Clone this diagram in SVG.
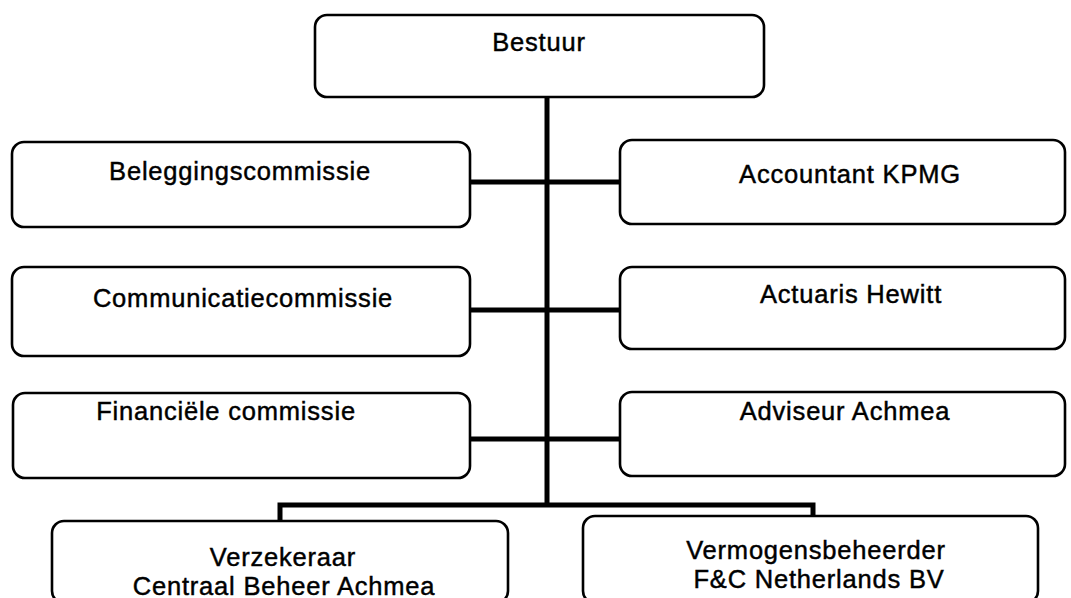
<svg xmlns="http://www.w3.org/2000/svg" width="1071" height="598" viewBox="0 0 1071 598">
<style>
.box{fill:#fff;stroke:#000;stroke-width:2.6}
.lbl{font-family:"Liberation Sans",Arial,sans-serif;font-size:25.5px;fill:#000;stroke:#000;stroke-width:0.45;letter-spacing:0.8px;text-anchor:middle}
.con{fill:none;stroke:#000;stroke-width:5}
</style>
<rect width="1071" height="598" fill="#fff"/>
<g id="connectors">
<line class="con" x1="547" y1="97" x2="547" y2="507"/>
<line class="con" x1="470" y1="182" x2="620" y2="182"/>
<line class="con" x1="470" y1="310" x2="620" y2="310"/>
<line class="con" x1="470" y1="439" x2="620" y2="439"/>
<path class="con" d="M280 521 V505 H813 V516"/>
</g>
<g id="bestuur"><rect class="box" x="315" y="15" width="449" height="82" rx="12"/><text class="lbl" x="539" y="51">Bestuur</text></g>
<g id="beleggingscommissie"><rect class="box" x="12" y="142" width="458" height="85" rx="12"/><text class="lbl" x="240" y="180">Beleggingscommissie</text></g>
<g id="communicatiecommissie"><rect class="box" x="12" y="267" width="458" height="89" rx="12"/><text class="lbl" x="243" y="307">Communicatiecommissie</text></g>
<g id="financiele-commissie"><rect class="box" x="13" y="393" width="457" height="85" rx="12"/><text class="lbl" x="226" y="420">Financiële commissie</text></g>
<g id="accountant"><rect class="box" x="620" y="140" width="445" height="84" rx="12"/><text class="lbl" x="850" y="183">Accountant KPMG</text></g>
<g id="actuaris"><rect class="box" x="620" y="267" width="445" height="82" rx="12"/><text class="lbl" x="851" y="303">Actuaris Hewitt</text></g>
<g id="adviseur"><rect class="box" x="620" y="392" width="445" height="84" rx="12"/><text class="lbl" x="845" y="420">Adviseur Achmea</text></g>
<g id="verzekeraar"><rect class="box" x="52" y="521" width="456" height="82" rx="12"/><text class="lbl" x="283" y="566">Verzekeraar</text><text class="lbl" x="284" y="595">Centraal Beheer Achmea</text></g>
<g id="vermogensbeheerder"><rect class="box" x="583" y="516" width="455" height="87" rx="12"/><text class="lbl" x="816" y="559">Vermogensbeheerder</text><text class="lbl" x="819" y="588">F&amp;C Netherlands BV</text></g>
</svg>
